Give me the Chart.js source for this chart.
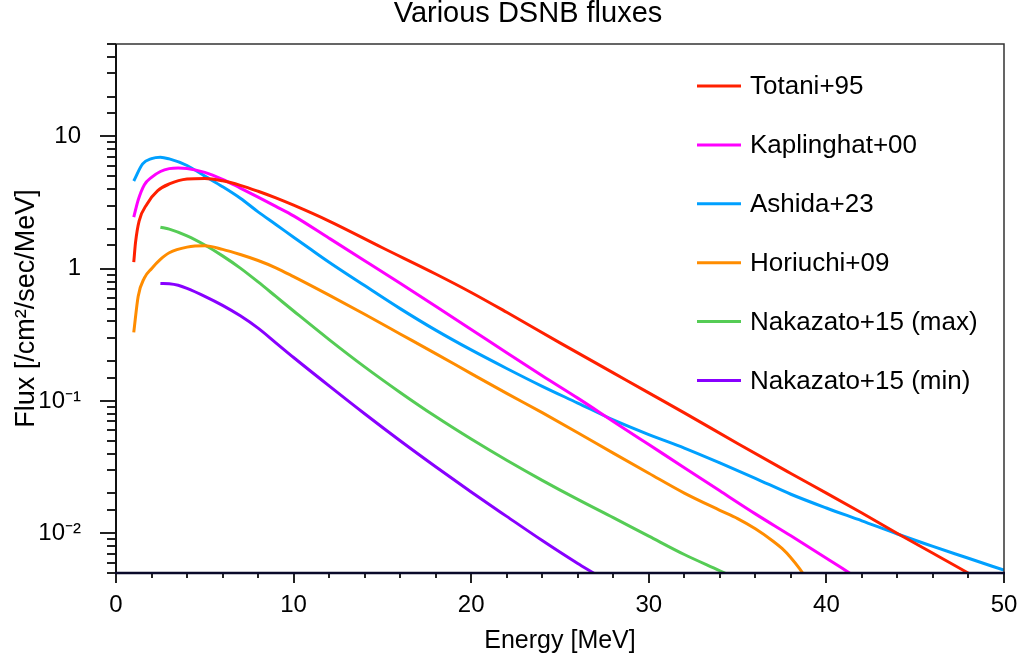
<!DOCTYPE html>
<html><head><meta charset="utf-8">
<script src="https://cdn.jsdelivr.net/npm/chart.js@4/dist/chart.umd.min.js"></script>
<style>html,body{margin:0;padding:0;background:#fff;overflow:hidden;}</style>
</head><body>
<canvas id="c" width="1022" height="662"></canvas>
<script>
const FONT = '"Liberation Sans", Arial, Helvetica, sans-serif';

const titleText = 'Various DSNB fluxes';
const xTitle = 'Energy [MeV]';
const yTitle = 'Flux [/cm\u00b2/sec/MeV]';
const yTickLabels = {'1': '10', '0': '1', '-1': '10\u207b\u00b9', '-2': '10\u207b\u00b2'};

const seriesNames = ['Totani+95', 'Kaplinghat+00', 'Ashida+23', 'Horiuchi+09', 'Nakazato+15 (max)', 'Nakazato+15 (min)'];
const seriesColors = ['#ff2000', '#ff00ff', '#00a0ff', '#ff8c00', '#55cc55', '#8800ff'];

const totaniE = [1, 1.1, 1.3, 1.75, 2.35, 3, 4, 5, 6, 7, 8, 9, 10, 12, 15, 18, 20, 22, 25, 28, 30, 32, 35, 38, 40, 42, 44, 46, 48, 48.5];
const totaniF = [1.12, 1.58, 2.29, 3.09, 3.89, 4.37, 4.76, 4.81, 4.62, 4.27, 3.85, 3.43, 3.02, 2.29, 1.44, 0.912, 0.661, 0.468, 0.275, 0.163, 0.115, 0.0813, 0.0476, 0.0283, 0.0201, 0.0142, 0.00995, 0.00705, 0.00498, 0.00455];

const kaplinghatE = [1, 1.25, 1.6, 2, 2.5, 3, 3.5, 4, 5, 6, 7, 8, 9, 10, 12, 14, 16, 18, 20, 22, 24, 26, 28, 30, 32, 34, 36, 38, 40, 41.5, 42];
const kaplinghatF = [2.45, 3.31, 4.32, 4.9, 5.43, 5.71, 5.78, 5.73, 5.35, 4.74, 4.07, 3.48, 2.96, 2.51, 1.70, 1.15, 0.776, 0.52, 0.347, 0.231, 0.155, 0.105, 0.070, 0.0468, 0.0313, 0.0209, 0.014, 0.00955, 0.00646, 0.00479, 0.00427];

const ashidaE = [1, 1.5, 2, 2.5, 3, 4, 5, 6, 7, 8, 9, 10, 11, 12, 14, 16, 18, 20, 22, 24, 26, 28, 30, 32, 34, 36, 38, 40, 42, 44, 46, 48, 50];
const ashidaF = [4.6, 6.2, 6.8, 6.97, 6.76, 6.03, 5.01, 4.17, 3.41, 2.69, 2.16, 1.73, 1.39, 1.12, 0.745, 0.499, 0.343, 0.243, 0.176, 0.129, 0.0964, 0.0719, 0.0557, 0.044, 0.034, 0.026, 0.0197, 0.0155, 0.0124, 0.00986, 0.00794, 0.00646, 0.00525];

const horiuchiE = [1, 1.25, 1.6, 2, 2.5, 3, 4, 5, 6, 7, 8, 9, 10, 12, 14, 16, 18, 20, 22, 24, 26, 28, 30, 32, 34, 35, 36, 37, 37.5, 38, 38.5, 39];
const horiuchiF = [0.33, 0.62, 0.853, 1.0, 1.175, 1.32, 1.455, 1.49, 1.40, 1.28, 1.153, 1.016, 0.871, 0.631, 0.452, 0.321, 0.228, 0.161, 0.114, 0.0815, 0.0575, 0.0403, 0.0284, 0.0201, 0.0149, 0.0129, 0.0108, 0.0087, 0.00767, 0.00653, 0.00537, 0.00427];

const nakazatoMaxE = [2.5, 3, 4, 5, 6, 7, 8, 9, 10, 12, 14, 16, 18, 20, 22, 24, 26, 28, 30, 32, 34, 35];
const nakazatoMaxF = [2.06, 1.99, 1.77, 1.51, 1.25, 1.01, 0.794, 0.617, 0.479, 0.291, 0.181, 0.116, 0.0762, 0.0515, 0.0356, 0.0251, 0.018, 0.0131, 0.0095, 0.0069, 0.0052, 0.0045];

const nakazatoMinE = [2.5, 3, 3.5, 4, 5, 6, 7, 8, 9, 10, 12, 14, 16, 18, 20, 22, 24, 26, 27.1, 28];
const nakazatoMinF = [0.774, 0.77, 0.75, 0.71, 0.618, 0.528, 0.44, 0.355, 0.275, 0.213, 0.130, 0.080, 0.050, 0.0318, 0.0205, 0.0134, 0.0088, 0.0059, 0.0048, 0.0040];

const seriesE = [totaniE, kaplinghatE, ashidaE, horiuchiE, nakazatoMaxE, nakazatoMinE];
const seriesF = [totaniF, kaplinghatF, ashidaF, horiuchiF, nakazatoMaxF, nakazatoMinF];

const datasets = seriesNames.map((name, i) => ({
  label: name,
  data: seriesE[i].map((e, j) => ({x: e, y: seriesF[i][j]})),
  borderColor: seriesColors[i],
  backgroundColor: seriesColors[i],
  borderWidth: 3,
  pointRadius: 0,
  fill: false,
  cubicInterpolationMode: 'monotone'
}));

function isPow10(v) {
  const l = Math.log10(v);
  return Math.abs(l - Math.round(l)) < 1e-6;
}

const decor = {
  id: 'decor',
  afterDraw(chart) {
    const {ctx, chartArea: a, scales: {x, y}} = chart;
    ctx.save();
    ctx.lineCap = 'butt';
    ctx.strokeStyle = '#222';
    ctx.lineWidth = 2;
    x.ticks.forEach(t => {
      const px = Math.round(x.getPixelForValue(t.value));
      const len = (Math.round(t.value) % 10 === 0) ? 10 : 5;
      ctx.beginPath(); ctx.moveTo(px, a.bottom); ctx.lineTo(px, a.bottom + len); ctx.stroke();
    });
    y.ticks.forEach(t => {
      const py = Math.round(y.getPixelForValue(t.value));
      const len = isPow10(t.value) ? 16 : 9;
      ctx.beginPath(); ctx.moveTo(a.left - len, py); ctx.lineTo(a.left, py); ctx.stroke();
    });
    ctx.strokeStyle = '#333';
    ctx.lineWidth = 1.5;
    ctx.beginPath(); ctx.moveTo(a.left, a.top); ctx.lineTo(a.right, a.top); ctx.lineTo(a.right, a.bottom); ctx.stroke();
    ctx.strokeStyle = '#111';
    ctx.lineWidth = 2;
    ctx.beginPath(); ctx.moveTo(a.left, a.top); ctx.lineTo(a.left, a.bottom); ctx.stroke();
    ctx.strokeStyle = '#0a0a2a';
    ctx.lineWidth = 2.5;
    ctx.beginPath(); ctx.moveTo(a.left - 1, a.bottom); ctx.lineTo(a.right + 1, a.bottom); ctx.stroke();
    ctx.fillStyle = '#000';
    ctx.font = '29px ' + FONT;
    ctx.textAlign = 'center';
    ctx.textBaseline = 'middle';
    ctx.fillText(titleText, 528, 14);
    ctx.font = '26px ' + FONT;
    ctx.textAlign = 'left';
    chart.data.datasets.forEach((ds, i) => {
      const ly = 86 + i * 58.9;
      ctx.strokeStyle = ds.borderColor;
      ctx.lineWidth = 3;
      ctx.beginPath(); ctx.moveTo(697, ly); ctx.lineTo(741, ly); ctx.stroke();
      ctx.fillStyle = '#000';
      ctx.fillText(ds.label, 750, ly + 1);
    });
    ctx.restore();
  }
};

new Chart(document.getElementById('c'), {
  type: 'line',
  data: {datasets},
  plugins: [decor],
  options: {
    responsive: false,
    animation: false,
    devicePixelRatio: 1,
    layout: {padding: {top: 44, right: 18, left: 0, bottom: 0}},
    plugins: {legend: {display: false}, title: {display: false}, tooltip: {enabled: false}},
    scales: {
      x: {
        type: 'linear', min: 0, max: 50,
        grid: {display: false},
        border: {display: false},
        ticks: {
          stepSize: 2, autoSkip: false, maxRotation: 0, padding: 10,
          color: '#000', font: {family: FONT, size: 24},
          callback: v => (Math.round(v) % 10 === 0 ? String(v) : '')
        },
        title: {display: true, text: xTitle, color: '#000', font: {family: FONT, size: 25}, padding: {top: 0, bottom: 6}},
        afterFit: s => { s.height = 89; s.paddingLeft = 0; s.paddingRight = 0; }
      },
      y: {
        type: 'logarithmic', min: 0.005, max: 50,
        grid: {display: false},
        border: {display: false},
        ticks: {
          autoSkip: false, padding: 27,
          color: '#000', font: {family: FONT, size: 24},
          callback: v => {
            if (!isPow10(v)) return '';
            const k = String(Math.round(Math.log10(v)));
            return yTickLabels[k] !== undefined ? yTickLabels[k] : '';
          }
        },
        title: {display: true, text: yTitle, color: '#000', font: {family: FONT, size: 27}, padding: {top: 10, bottom: 0}},
        afterFit: s => { s.width = 116; s.paddingTop = 0; s.paddingBottom = 0; }
      }
    }
  }
});
</script>
</body></html>
